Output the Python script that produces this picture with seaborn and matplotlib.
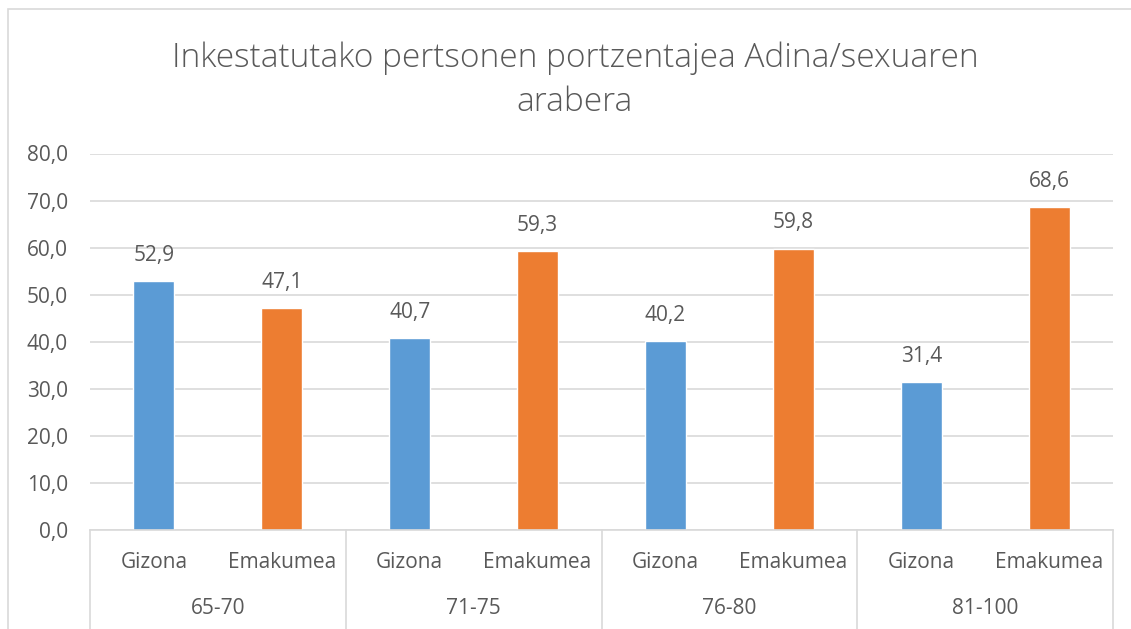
import matplotlib.pyplot as plt
import pandas as pd
import seaborn as sns
from matplotlib.lines import Line2D
from matplotlib.patches import Rectangle

age_groups = ['65-70', '71-75', '76-80', '81-100']
sexes = ['Gizona', 'Emakumea']
gizona = [52.9, 40.7, 40.2, 31.4]
emakumea = [47.1, 59.3, 59.8, 68.6]
y_ticks = [0, 10, 20, 30, 40, 50, 60, 70, 80]
title = 'Inkestatutako pertsonen portzentajea Adina/sexuaren\narabera'

rows = []
for age, g, e in zip(age_groups, gizona, emakumea):
    rows.append({'slot': age + ' ' + sexes[0], 'age': age, 'sex': sexes[0], 'value': g})
    rows.append({'slot': age + ' ' + sexes[1], 'age': age, 'sex': sexes[1], 'value': e})
data = pd.DataFrame(rows)

sns.set_theme(style='white')
plt.rcParams['font.family'] = ['Open Sans', 'DejaVu Sans']
text_color = '#595959'
grid_color = '#D9D9D9'
palette = {'Gizona': '#5B9BD5', 'Emakumea': '#ED7D31'}
label_size = 15

W, H = 1131, 629
fig = plt.figure(figsize=(W / 100, H / 100), dpi=100)
left, right, top, bottom = 90, 1113, 153.5, 530
ax = fig.add_axes([left / W, 1 - bottom / H, (right - left) / W, (bottom - top) / H])

sns.barplot(data=data, x='slot', y='value', hue='sex', palette=palette, dodge=False,
            width=0.32, ax=ax, legend=False, saturation=1)

ax.set_ylim(0, 80)
ax.set_xlim(-0.5, len(data) - 0.5)
ax.set_yticks(y_ticks)
ax.yaxis.set_major_formatter(plt.FuncFormatter(lambda v, p: ('%.1f' % v).replace('.', ',')))
ax.tick_params(axis='y', labelsize=label_size, labelcolor=text_color, length=0, pad=16)
ax.set_xticks([])
ax.set_xlabel('')
ax.set_ylabel('')
ax.grid(axis='y', color=grid_color, linewidth=1.2)
ax.set_axisbelow(True)
for side in ['top', 'right', 'left']:
    ax.spines[side].set_visible(False)
ax.spines['bottom'].set_color(grid_color)
ax.spines['bottom'].set_linewidth(1.2)

# data labels
for container in ax.containers:
    ax.bar_label(container, labels=[('%.1f' % b.get_height()).replace('.', ',') if b.get_height() > 0 else ''
                                    for b in container],
                 padding=11, fontsize=label_size, color=text_color)

# multi-level category axis
trans = ax.get_xaxis_transform()
for i, row in data.iterrows():
    ax.text(i, -(563 - bottom) / (bottom - top), row['sex'], transform=trans,
            ha='center', va='center', fontsize=label_size, color=text_color, clip_on=False)
for k, age in enumerate(age_groups):
    ax.text(2 * k + 0.5, -(609 - bottom) / (bottom - top), age, transform=trans,
            ha='center', va='center', fontsize=label_size, color=text_color, clip_on=False)
for k in range(len(age_groups) + 1):
    x_px = left + k * (right - left) / len(age_groups)
    fig.add_artist(Line2D([x_px / W, x_px / W], [1 - bottom / H, 0], color=grid_color, linewidth=1.2))

# chart border
fig.add_artist(Rectangle((8 / W, -0.01), 1.0, 1 - 9 / H + 0.01, fill=False, edgecolor=grid_color,
                         linewidth=1.2, transform=fig.transFigure))

fig.text(575 / W, 1 - 80 / H, title, ha='center', va='center', fontsize=24,
         color=text_color, linespacing=1.4, fontweight='light')

fig.savefig('out.png', dpi=100)
